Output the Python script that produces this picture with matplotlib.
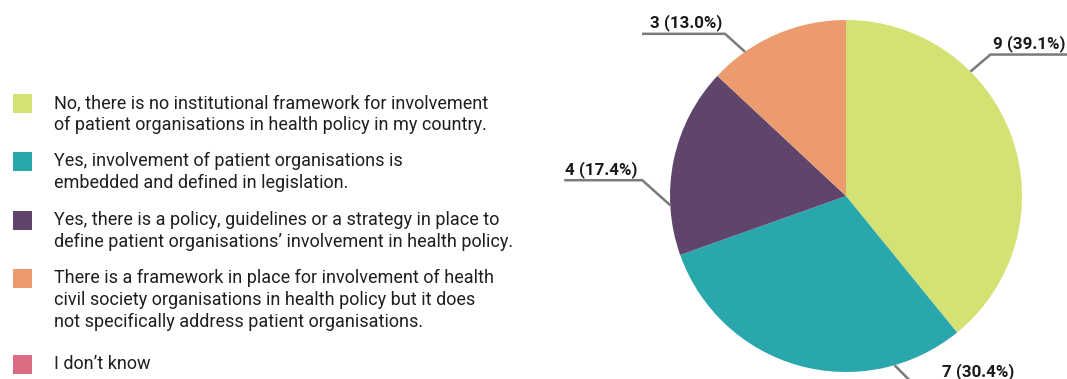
import matplotlib
matplotlib.use("Agg")
import matplotlib.pyplot as plt
import numpy as np
from matplotlib.patches import Rectangle

plt.rcParams["font.family"] = ["Roboto", "DejaVu Sans"]

# Survey answers and counts
categories = [
    "No, there is no institutional framework for involvement\nof patient organisations in health policy in my country.",
    "Yes, involvement of patient organisations is\nembedded and defined in legislation.",
    "Yes, there is a policy, guidelines or a strategy in place to\ndefine patient organisations\u2019 involvement in health policy.",
    "There is a framework in place for involvement of health\ncivil society organisations in health policy but it does\nnot specifically address patient organisations.",
    "I don\u2019t know",
]
counts = [9, 7, 4, 3, 0]
colors = ["#d4e173", "#2aa6ad", "#5f446b", "#ec9b6e", "#da6c81"]

W, H = 1067, 379
fig = plt.figure(figsize=(W / 100, H / 100), dpi=100)

# pie axes: centre (846, 196) px, radius 176 px
cx, cy, R = 846, 196, 176
ax = fig.add_axes([(cx - R) / W, (H - cy - R) / H, 2 * R / W, 2 * R / H])
ax.pie(counts, colors=colors, startangle=90, counterclock=False, radius=1,
       wedgeprops=dict(linewidth=0))
ax.set_xlim(-1, 1)
ax.set_ylim(-1, 1)
ax.set_aspect("equal")

total = sum(counts)
# leader angle (deg) on rim, elbow offset px, horizontal run px, text offset px
leaders = {
    0: (45, (20, 17), 90, 3),
    1: (286, (17, -17), 80, 30),
    2: (183, (-28, 25), -78, -5),
    3: (125, (-20, 18), -83, -3),
}
px = 1 / R
for i, (ang, (ex, ey), run, toff) in leaders.items():
    a = np.deg2rad(ang)
    x0, y0 = np.cos(a), np.sin(a)
    x1, y1 = x0 + ex * px, y0 + ey * px
    x2 = x1 + run * px
    ax.plot([x0, x1, x2], [y0, y1, y1], color="#7a7a7a", lw=1.8,
            clip_on=False, solid_capstyle="butt", solid_joinstyle="miter")
    label = f"{counts[i]} ({counts[i] / total * 100:.1f}%)"
    ha = "left" if toff > 0 else "right"
    ax.text(x1 + toff * px, y1 + 11 * px, label, ha=ha, va="center",
            fontsize=12.2, fontweight="bold", color="#1a1a1a", clip_on=False)

# legend drawn as squares + wrapped text
sq_tops = [94, 152, 211, 269, 355]
for top, col, txt in zip(sq_tops, colors, categories):
    fig.patches.append(Rectangle((13 / W, 1 - (top + 19) / H), 19 / W, 19 / H,
                                 transform=fig.transFigure, color=col,
                                 linewidth=0))
    fig.text(54 / W, 1 - top / H, txt, ha="left", va="top",
             fontsize=13, color="#1f1f1f", linespacing=1.28)

fig.savefig("out.png", dpi=100)
